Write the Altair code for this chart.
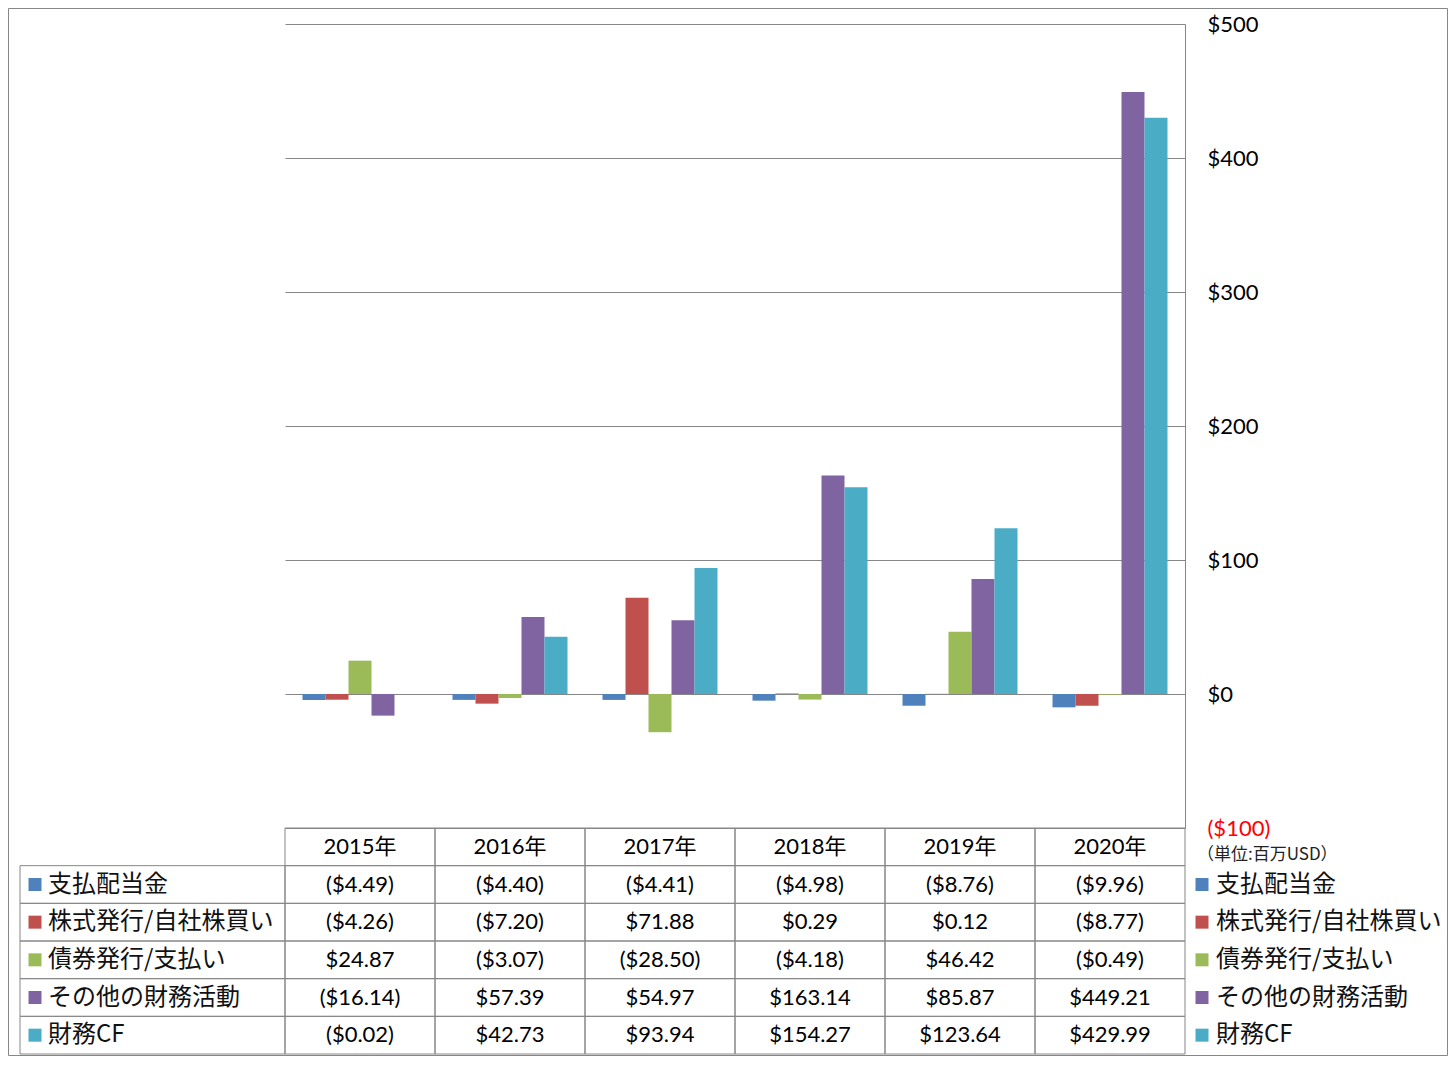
import altair as alt
import pandas as pd

years = ["2015年", "2016年", "2017年", "2018年", "2019年", "2020年"]
series = ["支払配当金", "株式発行/自社株買い", "債券発行/支払い", "その他の財務活動", "財務CF"]
colors = ["#4F81BD", "#C0504D", "#9BBB59", "#8064A2", "#4BACC6"]

dividends = [-4.49, -4.40, -4.41, -4.98, -8.76, -9.96]
stock = [-4.26, -7.20, 71.88, 0.29, 0.12, -8.77]
debt = [24.87, -3.07, -28.50, -4.18, 46.42, -0.49]
other = [-16.14, 57.39, 54.97, 163.14, 85.87, 449.21]
fcf = [-0.02, 42.73, 93.94, 154.27, 123.64, 429.99]
all_values = [dividends, stock, debt, other, fcf]

y_ticks = [-100, 0, 100, 200, 300, 400, 500]
unit_text = "（単位:百万USD）"


def fmt(v):
    return f"(${abs(v):.2f})" if v < 0 else f"${v:.2f}"


rows = []
for s, vals in zip(series, all_values):
    for yr, v in zip(years, vals):
        rows.append({"year": yr, "series": s, "value": v, "label": fmt(v), "row": s})
df = pd.DataFrame(rows)
hdr = pd.DataFrame({"year": years, "row": ["header"] * len(years)})
ser = pd.DataFrame({"series": series, "row": series})
one = pd.DataFrame({"k": [1]})

FONT = "Lato, 'Noto Sans CJK JP'"
JFONT = "'Noto Sans CJK JP'"
GRAY = "#868686"

color_scale = alt.Scale(domain=series, range=colors)
row_domain = ["header"] + series


def row_scale():
    return alt.Scale(domain=row_domain, range=[804, 1030], paddingInner=0, paddingOuter=0)


def col_scale():
    return alt.Scale(domain=years, paddingInner=0, paddingOuter=0)


bars = alt.Chart(df).mark_bar().encode(
    x=alt.X("year:N", sort=years, axis=None,
            scale=alt.Scale(domain=years, paddingInner=0.23333, paddingOuter=0.116667)),
    xOffset=alt.XOffset("series:N", sort=series, scale=alt.Scale(domain=series, paddingInner=0, paddingOuter=0)),
    y=alt.Y("value:Q", scale=alt.Scale(domain=[-100, 500], nice=False, zero=False),
            axis=alt.Axis(orient="right", values=y_ticks, grid=True, gridColor=GRAY, gridWidth=1,
                          domainColor=GRAY, ticks=False, labelPadding=22, labelFontSize=22,
                          labelFont=FONT, labelBaseline="middle",
                          labelExpr="datum.value < 0 ? '($' + format(-datum.value, ',') + ')' : '$' + format(datum.value, ',')",
                          labelColor=alt.condition("datum.value < 0", alt.value("red"), alt.value("black")),
                          title=None)),
    color=alt.Color("series:N", scale=color_scale, legend=None),
)

cells = alt.Chart(pd.concat([hdr, df[["year", "row"]]])).mark_rect(
    fill="white", fillOpacity=0, stroke=GRAY, strokeWidth=1
).encode(
    x=alt.X("year:N", scale=col_scale(), axis=None),
    y=alt.Y("row:N", scale=row_scale(), axis=None),
)

label_cells = alt.Chart(ser).mark_rect(fill="white", fillOpacity=0, stroke=GRAY, strokeWidth=1).encode(
    x=alt.value(-265), x2=alt.value(0),
    y=alt.Y("row:N", scale=row_scale(), axis=None),
)

hdr_text = alt.Chart(hdr).mark_text(font=FONT, fontSize=22, color="black", baseline="middle").encode(
    x=alt.X("year:N", scale=col_scale(), axis=None),
    y=alt.Y("row:N", scale=row_scale(), axis=None),
    text="year:N",
)

val_text = alt.Chart(df).mark_text(font=FONT, fontSize=22, color="black", baseline="middle").encode(
    x=alt.X("year:N", scale=col_scale(), axis=None),
    y=alt.Y("row:N", scale=row_scale(), axis=None),
    text="label:N",
)

left_sq = alt.Chart(ser).mark_square(size=169, opacity=1).encode(
    x=alt.value(-250),
    y=alt.Y("row:N", scale=row_scale(), axis=None),
    color=alt.Color("series:N", scale=color_scale, legend=None),
)
left_txt = alt.Chart(ser).mark_text(font=JFONT, fontSize=24, align="left", baseline="middle", color="#111111").encode(
    x=alt.value(-237),
    y=alt.Y("row:N", scale=row_scale(), axis=None),
    text="series:N",
)
right_sq = alt.Chart(ser).mark_square(size=169, opacity=1).encode(
    x=alt.value(917),
    y=alt.Y("row:N", scale=row_scale(), axis=None),
    color=alt.Color("series:N", scale=color_scale, legend=None),
)
right_txt = alt.Chart(ser).mark_text(font=JFONT, fontSize=24, align="left", baseline="middle", color="#111111").encode(
    x=alt.value(931),
    y=alt.Y("row:N", scale=row_scale(), axis=None),
    text="series:N",
)

unit = alt.Chart(one).mark_text(font=JFONT, fontSize=17, align="left", baseline="middle", color="#222222").encode(
    x=alt.value(912), y=alt.value(831), text=alt.value(unit_text)
)

border = alt.Chart(one).mark_rect(fill="white", fillOpacity=0, stroke=GRAY, strokeWidth=1).encode(
    x=alt.value(-276.5), x2=alt.value(1162.5), y=alt.value(-15.5), y2=alt.value(1031.5)
)

chart = alt.layer(
    bars, cells, label_cells, hdr_text, val_text, left_sq, left_txt, right_sq, right_txt, unit, border
).resolve_scale(
    x="independent", y="independent", color="shared"
).properties(
    width=900, height=804,
    background="white",
    autosize=alt.AutoSizeParams(type="none"),
    padding={"left": 277, "top": 16, "right": 263, "bottom": 228},
).configure_view(strokeWidth=0, stroke=None)

chart.save("out.html", embed_options={"renderer": "svg", "actions": False})
